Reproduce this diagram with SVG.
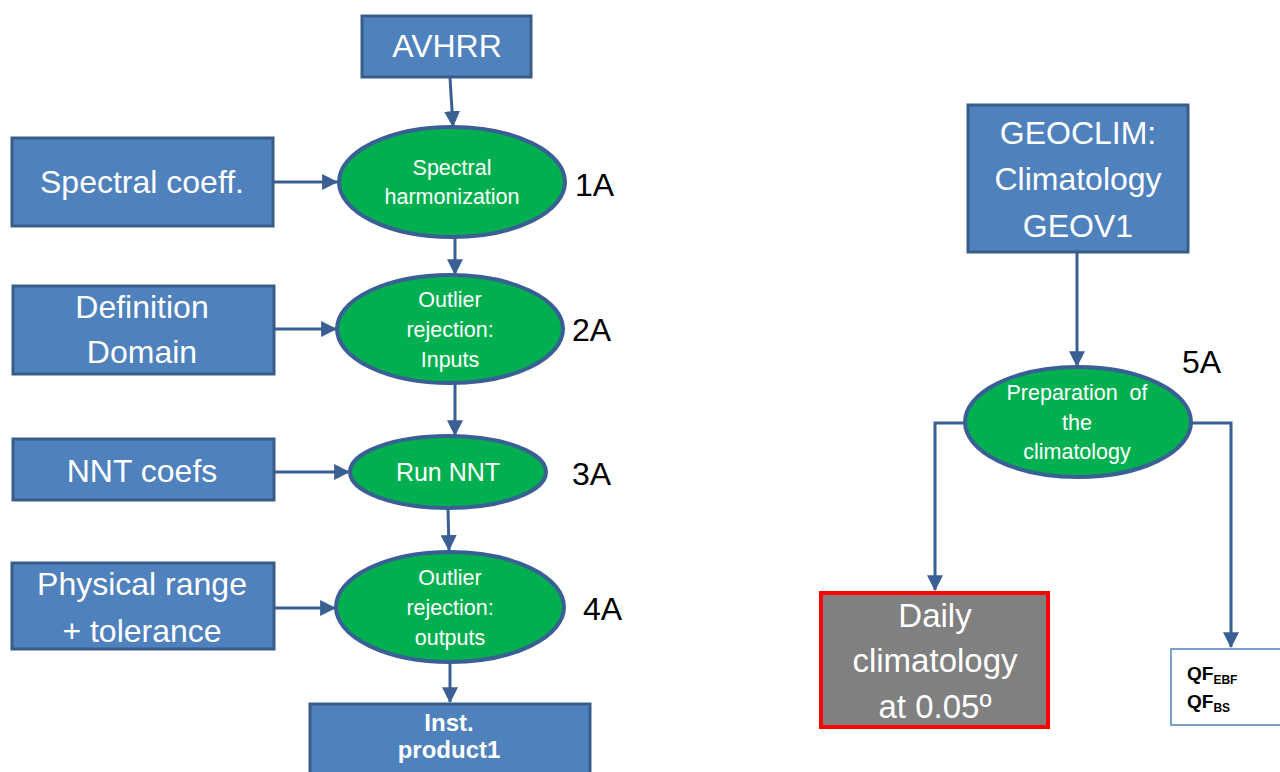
<svg xmlns="http://www.w3.org/2000/svg" width="1280" height="772" viewBox="0 0 1280 772">
<style>
.box{fill:#4f81bd;stroke:#385d8a;stroke-width:3}
.ell{fill:#00b050;stroke:#3a5f94;stroke-width:4}
.bt{fill:#fff;font-family:"Liberation Sans",Arial,sans-serif;font-size:32px;text-anchor:middle}
.et{fill:#fff;font-family:"Liberation Sans",Arial,sans-serif;font-size:21.5px;text-anchor:middle}
.lab{fill:#000;font-family:"Liberation Sans",Arial,sans-serif;font-size:32px}
.con{fill:none;stroke:#3a5f94;stroke-width:3;marker-end:url(#ah)}
.qf{fill:#000;font-family:"Liberation Sans",Arial,sans-serif;font-size:19px;font-weight:bold}
</style>
<defs>
<marker id="ah" markerUnits="userSpaceOnUse" markerWidth="16" markerHeight="16" viewBox="0 0 14 14" refX="13" refY="7" orient="auto">
<path d="M0,0 L14,7 L0,14 Z" fill="#3a5f94"/>
</marker>
</defs>
<rect width="1280" height="772" fill="#fff"/>
<g id="connectors">
<path class="con" d="M450,78 L453,126"/>
<path class="con" d="M455,238 L455,274"/>
<path class="con" d="M455,384 L455,435"/>
<path class="con" d="M448,509 L449,550"/>
<path class="con" d="M450,664 L450,702"/>
<path class="con" d="M273,182 L337,182"/>
<path class="con" d="M275,329 L336,329"/>
<path class="con" d="M275,472 L349,472"/>
<path class="con" d="M275,608 L335,608"/>
<path class="con" d="M1077,252 L1077,366"/>
<path class="con" d="M965,423 L935,423 L935,590"/>
<path class="con" d="M1191,423 L1231,423 L1231,647"/>
</g>
<g id="avhrr"><rect class="box" x="362" y="16" width="169" height="61"/><text class="bt" x="447" y="57">AVHRR</text></g>
<g id="spectral-coeff"><rect class="box" x="12" y="138" width="261" height="88"/><text class="bt" x="142" y="193">Spectral coeff.</text></g>
<g id="definition-domain"><rect class="box" x="13" y="286" width="261" height="88"/><text class="bt" x="142" y="318">Definition</text><text class="bt" x="142" y="363">Domain</text></g>
<g id="nnt-coefs"><rect class="box" x="13" y="439" width="261" height="61"/><text class="bt" x="142" y="482">NNT coefs</text></g>
<g id="physical-range"><rect class="box" x="12" y="563" width="262" height="86"/><text class="bt" x="142" y="595">Physical range</text><text class="bt" x="142" y="642">+ tolerance</text></g>
<g id="step1A"><ellipse class="ell" cx="452" cy="182" rx="113" ry="55"/><text class="et" x="452" y="175">Spectral</text><text class="et" x="452" y="204">harmonization</text><text class="lab" x="575" y="196">1A</text></g>
<g id="step2A"><ellipse class="ell" cx="450" cy="329" rx="113" ry="54"/><text class="et" x="450" y="307">Outlier</text><text class="et" x="450" y="337">rejection:</text><text class="et" x="450" y="367">Inputs</text><text class="lab" x="572" y="341">2A</text></g>
<g id="step3A"><ellipse class="ell" cx="448" cy="472" rx="98" ry="36"/><text class="et" x="448" y="481" style="font-size:25px">Run NNT</text><text class="lab" x="572" y="485">3A</text></g>
<g id="step4A"><ellipse class="ell" cx="450" cy="607" rx="114" ry="55"/><text class="et" x="450" y="585">Outlier</text><text class="et" x="450" y="615">rejection:</text><text class="et" x="450" y="645">outputs</text><text class="lab" x="583" y="620">4A</text></g>
<g id="inst-product1"><rect class="box" x="310" y="704" width="280" height="80"/><text class="bt" x="449" y="731" style="font-size:24px;font-weight:bold">Inst.</text><text class="bt" x="449" y="758" style="font-size:24px;font-weight:bold">product1</text></g>
<g id="geoclim"><rect class="box" x="968" y="105" width="220" height="147"/><text class="bt" x="1078" y="144">GEOCLIM:</text><text class="bt" x="1078" y="190">Climatology</text><text class="bt" x="1078" y="237">GEOV1</text></g>
<g id="step5A"><ellipse class="ell" cx="1078" cy="422" rx="113" ry="55"/><text class="et" x="1077" y="400" xml:space="preserve">Preparation  of</text><text class="et" x="1077" y="430">the</text><text class="et" x="1077" y="459">climatology</text><text class="lab" x="1182" y="373">5A</text></g>
<g id="daily-climatology"><rect x="821" y="593" width="227" height="134" fill="#808080" stroke="#ff0000" stroke-width="4"/><text class="bt" x="935" y="627" style="font-size:33px">Daily</text><text class="bt" x="935" y="672" style="font-size:33px">climatology</text><text class="bt" x="935" y="718" style="font-size:33px">at 0.05º</text></g>
<g id="qf"><rect x="1171" y="649" width="120" height="76" fill="#fff" stroke="#4f81bd" stroke-width="1.5"/><text class="qf" x="1187" y="680">QF<tspan font-size="12" dy="4">EBF</tspan></text><text class="qf" x="1187" y="708">QF<tspan font-size="12" dy="4">BS</tspan></text></g>
</svg>
